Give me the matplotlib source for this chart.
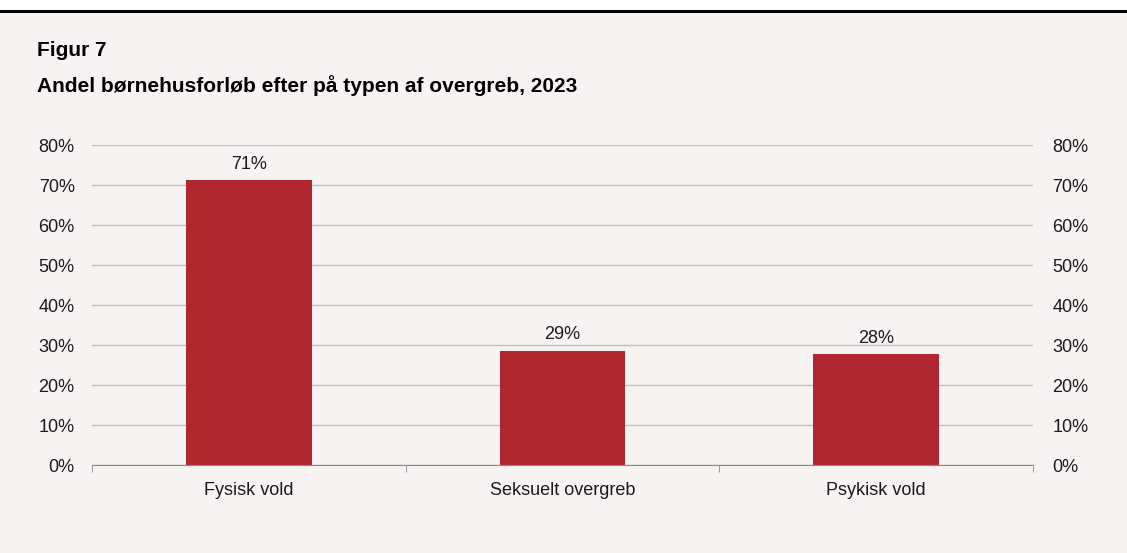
import matplotlib.pyplot as plt
from matplotlib.lines import Line2D
from matplotlib.ticker import FuncFormatter

plt.rcParams['font.family'] = ['Liberation Sans', 'DejaVu Sans']

# Data
categories = ['Fysisk vold', 'Seksuelt overgreb', 'Psykisk vold']
values = [71.2, 28.6, 27.8]
labels = ['71%', '29%', '28%']
yticks = [0, 10, 20, 30, 40, 50, 60, 70, 80]

bg = '#F7F3F2'
bar_color = '#B0272F'
txt = '#1A1A1A'

fig = plt.figure(figsize=(11.27, 5.53), dpi=100)
fig.patch.set_facecolor(bg)

# white strip + black line at top
fig.patches.append(plt.Rectangle((0, 1 - 11 / 553), 1, 11 / 553, transform=fig.transFigure,
                                 facecolor='white', edgecolor='none', zorder=0))
fig.add_artist(Line2D([0, 1], [1 - 11 / 553, 1 - 11 / 553], transform=fig.transFigure,
                      color='black', linewidth=2.2))

fig.text(37 / 1127, 1 - 50 / 553, 'Figur 7', fontsize=15, fontweight='bold', va='center', color='black')
fig.text(37 / 1127, 1 - 86 / 553, 'Andel børnehusforløb efter på typen af overgreb, 2023',
         fontsize=15, fontweight='bold', va='center', color='black')

ax = fig.add_axes([92 / 1127, 1 - 465 / 553, (1033 - 92) / 1127, (465 - 145) / 553])
ax.set_facecolor(bg)

x = list(range(len(categories)))
ax.bar(x, values, width=0.4, color=bar_color, zorder=3)
for xi, v, lab in zip(x, values, labels):
    ax.text(xi, v + 1.8, lab, ha='center', va='bottom', fontsize=13, color=txt)

ax.set_xlim(-0.5, len(categories) - 0.5)
ax.set_ylim(0, 80)
ax.set_yticks(yticks)
ax.yaxis.set_major_formatter(FuncFormatter(lambda v, p: f'{int(v)}%'))
ax.grid(axis='y', color='#BEBEBE', linewidth=1, zorder=0)

for s in ['top', 'right', 'left']:
    ax.spines[s].set_visible(False)
ax.spines['bottom'].set_color('#8C8C8C')
ax.spines['bottom'].set_zorder(4)

ax.set_xticks(x)
ax.set_xticklabels(categories, fontsize=13, color=txt)
ax.tick_params(axis='x', which='major', length=0, pad=12)
ax.set_xticks([-0.5, 0.5, 1.5, 2.5], minor=True)
ax.tick_params(axis='x', which='minor', length=5, color='#8C8C8C', direction='out')

ax.tick_params(axis='y', length=0, labelsize=13, labelcolor=txt, pad=12.5)

ax2 = ax.twinx()
ax2.set_ylim(0, 80)
ax2.set_yticks(yticks)
ax2.yaxis.set_major_formatter(FuncFormatter(lambda v, p: f'{int(v)}%'))
ax2.tick_params(axis='y', length=0, labelsize=13, labelcolor=txt, pad=14)
for s in ax2.spines.values():
    s.set_visible(False)

fig.savefig('out.png', dpi=100, facecolor=bg)
